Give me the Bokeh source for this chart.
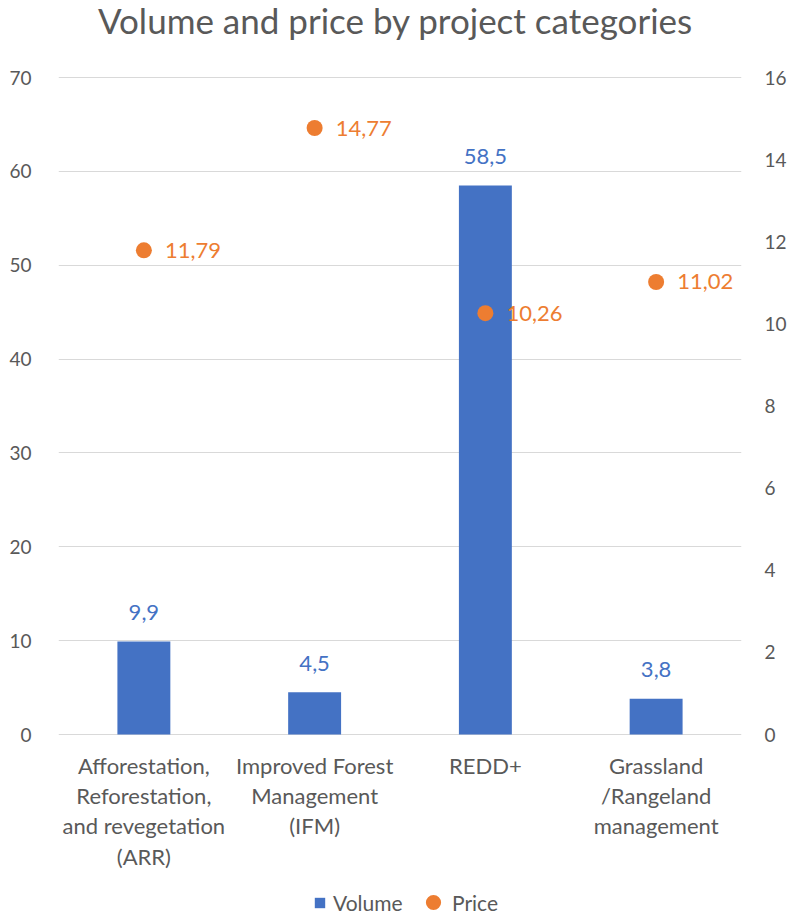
from bokeh.plotting import figure
from bokeh.models import (FactorRange, Range1d, LinearAxis, ColumnDataSource,
                          Legend, LegendItem, FixedTicker, Label)
from bokeh.core.properties import value
from bokeh.embed import file_html
from bokeh.resources import INLINE

# ---- data ----
categories = [
    "Afforestation,\nReforestation,\nand revegetation\n(ARR)",
    "Improved Forest\nManagement\n(IFM)",
    "REDD+",
    "Grassland\n/Rangeland\nmanagement",
]
volume = [9.9, 4.5, 58.5, 3.8]
price = [11.79, 14.77, 10.26, 11.02]
left_ticks = [0, 10, 20, 30, 40, 50, 60, 70]
right_ticks = [0, 2, 4, 6, 8, 10, 12, 14, 16]
title_text = "Volume and price by project categories"

FONT = "Lato"
TXT = "#595959"
BLUE = "#4472C4"
ORANGE = "#ED7D31"

# layout (pixels): value 0 at y=734, value 70 at y=77 in a 916 px tall canvas
H = 916
Y0_PX, Y70_PX = 734, 77
ppu = (Y0_PX - Y70_PX) / 70.0
v_lo = -(H - Y0_PX) / ppu
v_hi = Y0_PX / ppu
scale_r = 16 / 70.0

src = ColumnDataSource(dict(
    cat=categories,
    volume=volume,
    price=price,
    base=[0] * len(categories),
    vlab=[f"{v:.1f}".replace(".", ",") for v in volume],
    plab=[f"{v:.2f}".replace(".", ",") for v in price],
))

p = figure(
    x_range=FactorRange(factors=categories, range_padding=0),
    y_range=Range1d(v_lo, v_hi),
    width=789, height=H,
    frame_width=683, frame_height=H,
    min_border_left=58, min_border_right=48,
    min_border_top=0, min_border_bottom=0,
    output_backend="svg", toolbar_location=None,
)
p.extra_y_ranges = {"price": Range1d(v_lo * scale_r, v_hi * scale_r)}

p.outline_line_color = None
p.background_fill_color = "white"
p.border_fill_color = "white"

# title
p.add_layout(Label(x=337, y=H - 19, x_units="screen", y_units="screen",
                   text=title_text, text_align="center", text_baseline="middle",
                   text_font=FONT, text_font_size="35px", text_color=TXT))

# bars
bars = p.vbar(x="cat", top="volume", width=0.31, source=src,
              fill_color=BLUE, line_color=None)
# price dots
dots = p.scatter(x="cat", y="price", y_range_name="price", source=src,
                 size=16, marker="circle", fill_color=ORANGE, line_color=None)

# data labels
p.text(x="cat", y="volume", text="vlab", source=src,
       text_align="center", text_baseline="middle", y_offset=-29,
       text_color=BLUE, text_font=value(FONT), text_font_size="22px")
p.text(x="cat", y="price", text="plab", source=src, y_range_name="price",
       text_align="left", text_baseline="middle", x_offset=21,
       text_color=ORANGE, text_font=value(FONT), text_font_size="22px")

# category labels below the baseline
p.text(x="cat", y="base", text="cat", source=src,
       text_align="center", text_baseline="top", y_offset=17,
       text_color=TXT, text_font=value(FONT), text_font_size="22px",
       text_line_height=1.124)

# axes
p.xaxis.visible = False
yl = p.yaxis[0]
yl.ticker = FixedTicker(ticks=left_ticks)
ry = LinearAxis(y_range_name="price", ticker=FixedTicker(ticks=right_ticks))
p.add_layout(ry, "right")
for ax in [yl, ry]:
    ax.axis_line_color = None
    ax.major_tick_line_color = None
    ax.minor_tick_line_color = None
    ax.major_label_text_font = FONT
    ax.major_label_text_font_size = "19px"
    ax.major_label_text_color = TXT
yl.major_label_standoff = 21
ry.major_label_standoff = 17

p.xgrid.grid_line_color = None
p.ygrid.grid_line_color = "#D9D9D9"
p.ygrid.grid_line_width = 1


def style_legend(lg):
    lg.border_line_color = None
    lg.background_fill_alpha = 0
    lg.label_text_font = FONT
    lg.label_text_font_size = "21px"
    lg.label_text_color = TXT
    lg.padding = 0
    lg.margin = 0


leg_v = Legend(items=[LegendItem(label="Volume", renderers=[bars])],
               orientation="horizontal", location=(255, 1))
style_legend(leg_v)
leg_v.glyph_width = 13
leg_v.glyph_height = 13
leg_v.label_standoff = 7
p.add_layout(leg_v, "center")

leg_p = Legend(items=[LegendItem(label="Price", renderers=[dots])],
               orientation="horizontal", location=(356, -5))
style_legend(leg_p)
leg_p.glyph_width = 38
leg_p.glyph_height = 38
leg_p.label_standoff = -6
p.add_layout(leg_p, "center")

open("out.html", "w").write(file_html(p, INLINE))
